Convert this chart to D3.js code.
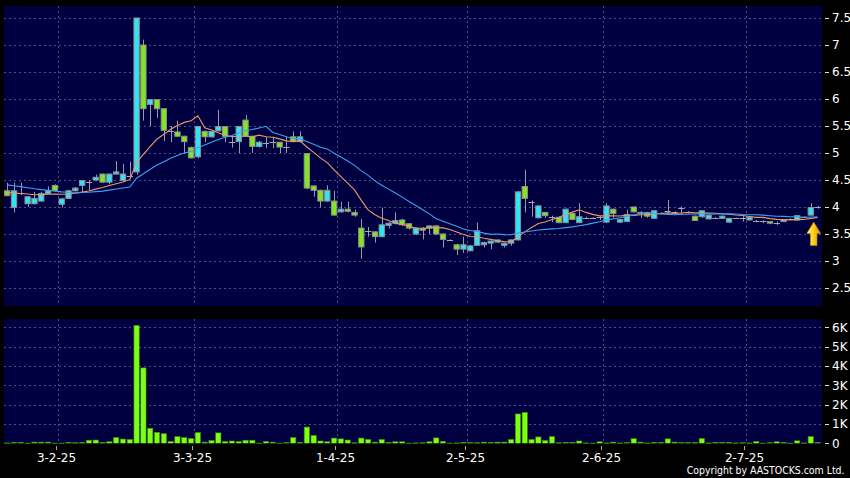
<!DOCTYPE html>
<html><head><meta charset="utf-8">
<script src="https://cdn.jsdelivr.net/npm/d3@7/dist/d3.min.js"></script>
<style>html,body{margin:0;padding:0;background:#000;}svg{display:block;}</style>
</head><body>
<svg id="chart" width="850" height="478"></svg>
<script>
// ---- data ----
const tradingDays = [
  [1, [17,20,21,22,23,24,27,28]],
  [2, [3,4,5,6,7,10,11,12,13,14,17,18,19,20,21,24,25,26,27,28]],
  [3, [3,4,5,6,7,10,11,12,13,14,17,18,19,20,21,24,25,26,27,28,31]],
  [4, [1,2,3,7,8,9,10,11,14,15,16,17,22,23,24,25,28,29,30]],
  [5, [2,6,7,8,9,12,13,14,15,16,19,20,21,22,23,26,27,28,29,30]],
  [6, [2,3,4,5,6,9,10,11,12,13,16,17,18,19,20,23,24,25,26,27,30]],
  [7, [2,3,4,7,8,9,10,11,14,15,16]]
];
const dates = tradingDays.flatMap(([m, ds]) => ds.map(d => `${d}-${m}-25`));
const tickLabels = ["3-2-25","3-3-25","1-4-25","2-5-25","2-6-25","2-7-25"];
const priceTicks = [2.5,3,3.5,4,4.5,5,5.5,6,6.5,7,7.5];
const volumeTicks = [0,1,2,3,4,5,6];

const open = [4.30,3.99,4.27,4.06,4.06,4.11,4.25,4.40,4.05,4.16,4.30,4.40,4.45,4.50,4.61,4.46,4.61,4.49,4.57,4.65,
  7.00,5.90,5.99,5.82,5.42,5.39,5.31,5.10,4.93,5.40,5.30,5.41,5.49,5.21,5.21,5.61,5.31,5.12,5.20,5.20,
  5.20,5.12,5.30,5.21,4.99,4.39,4.31,4.11,4.11,3.91,3.96,3.90,3.61,3.55,3.54,3.45,3.66,3.70,3.76,3.69,
  3.50,3.61,3.61,3.65,3.50,3.39,3.30,3.22,3.19,3.29,3.30,3.33,3.35,3.29,3.33,3.39,4.38,4.11,3.80,3.90,
  3.82,3.81,3.71,3.88,3.71,3.81,3.80,3.80,3.72,3.96,3.72,3.73,4.00,3.88,3.89,3.79,3.89,3.93,3.90,3.99,
  3.90,3.83,3.82,3.78,3.80,3.79,3.72,3.79,3.80,3.76,3.75,3.74,3.73,3.72,3.73,3.78,3.76,3.82,3.85,4.00];
const high = [4.45,4.45,4.45,4.20,4.28,4.28,4.38,4.42,4.17,4.32,4.37,4.50,4.50,4.60,4.62,4.62,4.85,4.80,4.84,7.50,
  7.10,6.00,6.00,5.82,5.50,5.60,5.32,5.12,5.50,5.42,5.42,5.80,5.50,5.30,5.50,5.70,5.32,5.22,5.30,5.30,
  5.20,5.30,5.40,5.40,5.00,4.40,4.32,4.40,4.30,4.10,4.10,3.95,3.78,3.63,3.55,3.99,3.72,3.90,3.78,3.70,
  3.62,3.63,3.66,3.66,3.51,3.40,3.32,3.45,3.30,3.71,3.36,3.38,3.40,3.34,3.40,4.30,4.69,4.12,4.03,3.91,
  3.84,3.82,3.97,3.90,4.07,3.82,3.81,3.83,4.07,3.97,3.78,3.95,4.01,3.92,3.90,3.94,3.90,4.13,3.92,4.01,
  3.92,3.84,3.94,3.86,3.81,3.84,3.80,3.80,3.83,3.82,3.76,3.75,3.74,3.73,3.77,3.79,3.85,3.83,4.07,4.02];
const low = [4.20,3.90,4.22,4.00,4.05,4.10,4.24,4.28,3.99,4.15,4.29,4.28,4.30,4.48,4.45,4.42,4.60,4.47,4.55,4.60,
  5.60,5.50,5.65,5.22,5.20,5.30,5.00,4.90,4.90,5.20,5.28,5.40,5.20,5.10,5.00,5.30,5.00,5.10,5.09,5.09,
  5.00,5.00,5.20,5.20,4.33,4.19,3.99,4.10,3.84,3.90,3.90,3.82,3.04,3.45,3.34,3.44,3.60,3.68,3.65,3.58,
  3.48,3.40,3.50,3.48,3.25,3.38,3.11,3.15,3.18,3.28,3.25,3.22,3.34,3.25,3.28,3.38,3.90,3.82,3.79,3.80,
  3.72,3.70,3.70,3.76,3.70,3.78,3.79,3.76,3.70,3.80,3.70,3.72,3.90,3.80,3.80,3.78,3.86,3.88,3.86,3.85,
  3.88,3.74,3.80,3.77,3.78,3.78,3.70,3.78,3.73,3.75,3.73,3.70,3.68,3.67,3.72,3.76,3.75,3.80,3.84,3.97];
const close = [4.21,4.30,4.26,4.19,4.16,4.25,4.30,4.30,4.15,4.30,4.35,4.49,4.46,4.55,4.46,4.61,4.65,4.61,4.58,7.50,
  5.82,5.99,5.82,5.42,5.41,5.31,5.21,4.91,5.49,5.30,5.40,5.49,5.31,5.20,5.49,5.31,5.12,5.20,5.19,5.20,
  5.11,5.12,5.21,5.30,4.35,4.31,4.11,4.31,3.85,3.96,3.92,3.85,3.26,3.55,3.45,3.67,3.70,3.75,3.67,3.61,
  3.61,3.57,3.65,3.50,3.40,3.39,3.22,3.30,3.28,3.56,3.34,3.37,3.39,3.33,3.39,4.28,4.16,4.10,4.02,3.84,
  3.82,3.71,3.96,3.77,3.82,3.80,3.80,3.81,4.02,3.88,3.77,3.86,3.91,3.90,3.83,3.93,3.88,3.93,3.90,3.99,
  3.90,3.75,3.93,3.85,3.79,3.83,3.79,3.79,3.80,3.81,3.74,3.74,3.70,3.71,3.76,3.78,3.84,3.82,3.99,4.00];
// volume in thousands of shares
const volume = [0.02,0.05,0.05,0.01,0.06,0.06,0.06,0.01,0.01,0.05,0.03,0.05,0.16,0.17,0.05,0.08,0.30,0.22,0.20,6.10,
  3.90,0.78,0.57,0.50,0.10,0.35,0.30,0.25,0.56,0.06,0.15,0.54,0.10,0.12,0.09,0.16,0.16,0.01,0.10,0.06,
  0.01,0.04,0.30,0.05,0.84,0.41,0.12,0.08,0.27,0.23,0.17,0.03,0.27,0.20,0.06,0.20,0.05,0.08,0.08,0.01,
  0.02,0.03,0.08,0.28,0.10,0.01,0.02,0.05,0.04,0.03,0.06,0.05,0.06,0.06,0.20,1.52,1.60,0.20,0.33,0.15,
  0.35,0.03,0.05,0.05,0.12,0.02,0.01,0.08,0.02,0.06,0.02,0.04,0.24,0.06,0.02,0.05,0.05,0.23,0.06,0.04,
  0.04,0.05,0.25,0.02,0.05,0.05,0.05,0.02,0.03,0.02,0.10,0.01,0.04,0.08,0.05,0.01,0.13,0.02,0.35,0.05];
// closes before the first visible day (estimated from where the moving averages start)
const earlierCloses = [4.62,4.60,4.58,4.55,4.57,4.53,4.55,4.50,4.52,4.48,4.40,4.35,4.30,4.28,4.25,4.22,4.25,4.20,4.24];
const maPeriods = [10, 20];

// ---- layout ----
const W = 850, H = 478;
const L = 4, R = 822;
const pTop = 6, pBot = 306, vTop = 319, vBot = 443.5;
const FONT = "DejaVu Sans, Verdana, sans-serif";
const BG = "#000040", GRID = "#4c4c86";

const svg = d3.select("#chart");
svg.append("rect").attr("width", W).attr("height", H).attr("fill", "#000");

const x = d3.scaleBand().domain(dates).range([3.8, 821]).paddingInner(0).paddingOuter(0);
const step = x.step();
const cx = d => x(d) + step / 2;
const bw = step * 0.78;

const yP = d3.scaleLinear().domain([2.5, 7.5]).range([288, 18]);
const yV = d3.scaleLinear().domain([0, 6]).range([443.3, 327.3]);

const defs = svg.append("defs");
defs.append("clipPath").attr("id", "clipP").append("rect").attr("x", L).attr("y", pTop).attr("width", R - L).attr("height", pBot - pTop);
defs.append("clipPath").attr("id", "clipV").append("rect").attr("x", L).attr("y", vTop).attr("width", R - L).attr("height", vBot - vTop);
const grad = defs.append("linearGradient").attr("id", "arrowGrad").attr("x1", "0").attr("x2", "1").attr("y1", "0").attr("y2", "0");
grad.append("stop").attr("offset", "0").attr("stop-color", "#fff6b0");
grad.append("stop").attr("offset", "0.45").attr("stop-color", "#ffd21a");
grad.append("stop").attr("offset", "1").attr("stop-color", "#d89a00");

// panels
svg.append("rect").attr("x", L).attr("y", pTop).attr("width", R - L).attr("height", pBot - pTop).attr("fill", BG);
svg.append("rect").attr("x", L).attr("y", vTop).attr("width", R - L).attr("height", vBot - vTop).attr("fill", BG);

// grids
const gP = svg.append("g").attr("clip-path", "url(#clipP)");
const gV = svg.append("g").attr("clip-path", "url(#clipV)");
gP.selectAll("line.h").data(priceTicks).join("line")
  .attr("x1", L).attr("x2", R).attr("y1", d => Math.round(yP(d)) + 0.5).attr("y2", d => Math.round(yP(d)) + 0.5)
  .attr("stroke", GRID).attr("stroke-dasharray", "2,3");
gV.selectAll("line.h").data(volumeTicks.filter(v => v > 0)).join("line")
  .attr("x1", L).attr("x2", R).attr("y1", d => Math.round(yV(d)) + 0.5).attr("y2", d => Math.round(yV(d)) + 0.5)
  .attr("stroke", GRID).attr("stroke-dasharray", "2,3");
[gP, gV].forEach((g, k) => {
  g.selectAll("line.v").data(tickLabels).join("line")
    .attr("x1", d => Math.round(x(d)) + 0.5).attr("x2", d => Math.round(x(d)) + 0.5)
    .attr("y1", k === 0 ? pTop : vTop).attr("y2", k === 0 ? pBot : vBot)
    .attr("stroke", GRID).attr("stroke-dasharray", "2,3");
});

// candles
const candles = dates.map((d, i) => ({d, o: open[i], h: high[i], l: low[i], c: close[i], v: volume[i]}));
gP.selectAll("line.wick").data(candles).join("line")
  .attr("x1", d => Math.round(cx(d.d)) + 0.5).attr("x2", d => Math.round(cx(d.d)) + 0.5)
  .attr("y1", d => yP(d.h)).attr("y2", d => yP(d.l))
  .attr("stroke", "#9a9aa6").attr("stroke-width", 1);
const isDoji = d => Math.abs(d.c - d.o) < 0.015;
gP.selectAll("rect.body").data(candles.filter(d => !isDoji(d))).join("rect")
  .attr("x", d => cx(d.d) - bw / 2).attr("width", bw)
  .attr("y", d => yP(Math.max(d.o, d.c))).attr("height", d => Math.max(1, Math.abs(yP(d.o) - yP(d.c))))
  .attr("fill", d => d.c > d.o ? "#33e3f2" : "#82e51e")
  .attr("stroke", "#8e8e96").attr("stroke-width", 1);
gP.selectAll("line.doji").data(candles.filter(isDoji)).join("line")
  .attr("x1", d => cx(d.d) - bw / 2 - 0.5).attr("x2", d => cx(d.d) + bw / 2 + 0.5)
  .attr("y1", d => Math.round(yP(d.c)) + 0.5).attr("y2", d => Math.round(yP(d.c)) + 0.5)
  .attr("stroke", "#a8a8b4").attr("stroke-width", 1);

// moving averages
const allCloses = earlierCloses.concat(close);
const off = earlierCloses.length;
const sma = n => close.map((_, i) => d3.mean(allCloses.slice(Math.max(0, i + off - n + 1), i + off + 1)));
const maColors = ["#e8966a", "#3aa2ee"];
maPeriods.forEach((n, k) => {
  const vals = sma(n);
  gP.append("path").datum(vals.map((v, i) => [cx(dates[i]), yP(v)]))
    .attr("d", d3.line()).attr("fill", "none").attr("stroke", maColors[k]).attr("stroke-width", 1.1);
});

// volume bars
gV.selectAll("rect.vol").data(candles).join("rect")
  .attr("x", d => cx(d.d) - bw / 2).attr("width", bw)
  .attr("y", d => yV(d.v)).attr("height", d => Math.max(0.8, yV(0) - yV(d.v)))
  .attr("fill", "#7dff14").attr("stroke", "#3c8a00").attr("stroke-width", 0.6);

// right axes
const axisText = (g, yv, txt) => {
  g.append("line").attr("x1", 825).attr("x2", 829).attr("y1", Math.round(yv) + 0.5).attr("y2", Math.round(yv) + 0.5).attr("stroke", "#ddd");
  g.append("text").attr("x", 832).attr("y", yv).attr("dy", "0.36em").attr("fill", "#fff")
    .attr("font-family", FONT).attr("font-size", 12).text(txt);
};
const gAx = svg.append("g");
priceTicks.forEach(p => axisText(gAx, yP(p), String(p)));
volumeTicks.forEach(v => axisText(gAx, yV(v), v === 0 ? "0" : v + "K"));

// bottom axis
tickLabels.forEach(t => {
  const xx = Math.round(x(t)) - 1.5;
  gAx.append("line").attr("x1", xx).attr("x2", xx).attr("y1", 446).attr("y2", 450).attr("stroke", "#aaa");
  gAx.append("text").attr("x", xx).attr("y", 462).attr("text-anchor", "middle").attr("fill", "#fff")
    .attr("font-family", FONT).attr("font-size", 12).text(t);
});

// copyright (fit to the reference width using its measured natural length)
const copy = svg.append("text").attr("x", 844.5).attr("y", 474).attr("text-anchor", "end").attr("fill", "#fff")
  .attr("font-family", "DejaVu Sans Condensed, DejaVu Sans, sans-serif").attr("font-size", 11)
  .text("Copyright by AASTOCKS.com Ltd.");
const natural = copy.node().getComputedTextLength();
if (natural > 0) copy.attr("font-size", Math.min(11, 11 * 158 / natural));

// latest-price arrow
const last = dates.length - 1;
const ax = cx(dates[last]) - step * 0.57;
const tip = yP(3.72), mid = tip + 11.5, base = tip + 23.5;
svg.append("path")
  .attr("d", `M${ax},${tip} L${ax + 7},${mid} L${ax + 3.3},${mid} L${ax + 3.3},${base} L${ax - 3.3},${base} L${ax - 3.3},${mid} L${ax - 7},${mid} Z`)
  .attr("fill", "url(#arrowGrad)").attr("stroke", "#b88400").attr("stroke-width", 0.6);
</script>
</body></html>
